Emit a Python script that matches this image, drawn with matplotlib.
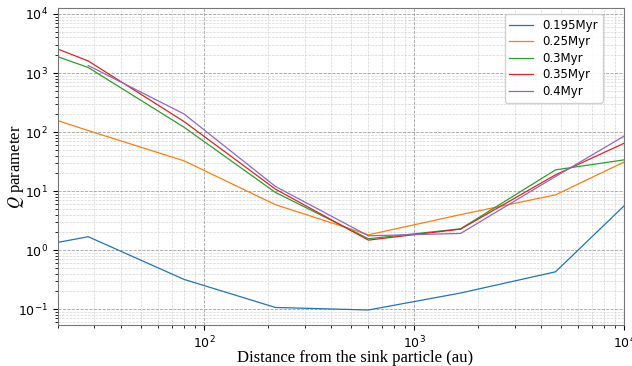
import numpy as np
import matplotlib
matplotlib.use('Agg')
import matplotlib.pyplot as plt

plt.rcParams['mathtext.fontset'] = 'stix'

# radial bins (au) and Q profile at each snapshot
r = [20, 28, 80, 218, 604, 1660, 4700, 10000]
q_0195 = [1.35, 1.69, 0.32, 0.107, 0.097, 0.188, 0.43, 5.7]
q_025 = [157, 106, 32.6, 5.9, 1.82, 4.0, 8.65, 31.3]
q_03 = [1900, 1240, 121, 9.5, 1.56, 2.3, 22.9, 33.9]
q_035 = [2560, 1600, 151, 10.8, 1.48, 2.27, 18.9, 65]
q_04 = [np.nan, 1340, 203, 12.0, 1.75, 1.92, 17.7, 86]

labels = ['0.195Myr', '0.25Myr', '0.3Myr', '0.35Myr', '0.4Myr']
series = [q_0195, q_025, q_03, q_035, q_04]

fig = plt.figure(figsize=(6.32, 3.66), dpi=100)
ax = fig.add_axes([0.091, 0.112, 0.897, 0.866])

for q, lab in zip(series, labels):
    ax.plot(r, q, lw=0.9, label=lab)

ax.set_xscale('log')
ax.set_yscale('log')
ax.set_xlim(20, 1e4)
ax.set_ylim(0.054, 12600)

ax.grid(True, which='major', color='#888888', ls='--', lw=0.6, alpha=0.8)
ax.grid(True, which='minor', color='#bbbbbb', ls='--', lw=0.5, alpha=0.6)
ax.tick_params(labelsize=9)
for s in ax.spines.values():
    s.set_color('#777777')

ax.set_xlabel('Distance from the sink particle (au)', fontsize=12,
              family='Liberation Serif')
ax.set_ylabel(r'$Q$ parameter', fontsize=12, family='Liberation Serif')
ax.xaxis.set_label_coords(0.525, -0.08)
ax.yaxis.set_label_coords(-0.056, 0.5)

ax.legend(loc='upper right', fontsize=8.5, framealpha=0.9,
          bbox_to_anchor=(0.972, 1.0), handlelength=2.0, labelspacing=0.3)

plt.savefig('out.png', dpi=100)
